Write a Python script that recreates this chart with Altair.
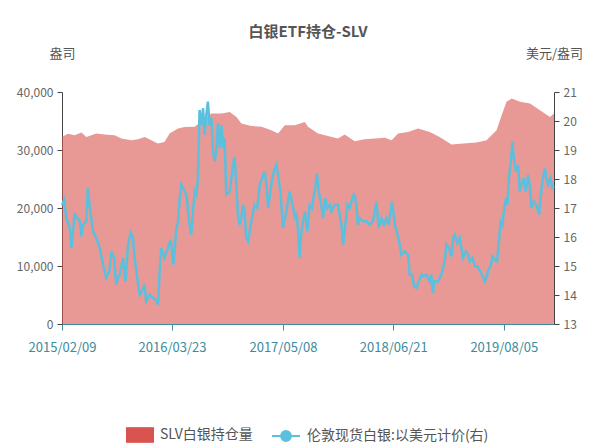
import altair as alt
import pandas as pd

FONT = "Noto Sans CJK SC"
HOLD_NAME = "SLV白银持仓量"
PRICE_NAME = "伦敦现货白银:以美元计价(右)"
TITLE = "白银ETF持仓-SLV"

# ---- SLV holdings (left axis) ----
hold_dates = [
    "2015-02-09", "2015-03-03", "2015-03-28", "2015-04-22", "2015-05-10", "2015-05-29",
    "2015-06-16", "2015-07-17", "2015-08-23", "2015-09-17", "2015-10-24", "2015-11-18",
    "2015-12-13", "2016-01-06", "2016-01-30", "2016-02-24", "2016-03-14", "2016-04-14",
    "2016-05-09", "2016-06-15", "2016-07-22", "2016-08-16", "2016-09-22", "2016-10-23",
    "2016-11-17", "2016-12-05", "2017-01-11", "2017-02-18", "2017-03-26", "2017-04-20",
    "2017-05-15", "2017-06-21", "2017-07-28", "2017-08-09", "2017-09-15", "2017-10-22",
    "2017-11-28", "2017-12-23", "2018-01-29", "2018-03-07", "2018-04-14", "2018-05-21",
    "2018-06-15", "2018-07-09", "2018-08-15", "2018-09-21", "2018-11-03", "2018-12-10",
    "2019-01-23", "2019-03-07", "2019-04-26", "2019-06-02", "2019-07-09", "2019-07-28",
    "2019-08-15", "2019-09-03", "2019-10-04", "2019-11-10", "2019-12-17", "2020-01-23",
    "2020-02-07",
]
hold_values = [
    32260, 32800, 32550, 33000, 32260, 32550,
    32850, 32670, 32550, 31990, 31700, 31870,
    32260, 31700, 31130, 31400, 32850, 33700,
    33980, 34000, 35400, 36300, 36300, 36560,
    35700, 34560, 34150, 34000, 33400, 32850,
    34270, 34270, 34840, 34000, 32850, 32430,
    31990, 32670, 31520, 31870, 31990, 32100,
    31700, 32850, 33120, 33700, 33120, 32260,
    30950, 31130, 31300, 31700, 33410, 36000,
    38300, 38870, 38300, 38000, 36850, 35700,
    36300,
]

# ---- London spot silver, USD (right axis) ----
price_dates = [
    "2015-02-09", "2015-02-17", "2015-02-25", "2015-03-10", "2015-03-16", "2015-03-22",
    "2015-03-28", "2015-04-04", "2015-04-16", "2015-04-22", "2015-04-28", "2015-05-10",
    "2015-05-16", "2015-05-22", "2015-06-04", "2015-06-16", "2015-06-29", "2015-07-11",
    "2015-07-23", "2015-08-04", "2015-08-11", "2015-08-21", "2015-08-29", "2015-09-04",
    "2015-09-11", "2015-09-23", "2015-10-02", "2015-10-12", "2015-10-22", "2015-10-30",
    "2015-11-05", "2015-11-15", "2015-11-24", "2015-12-02", "2015-12-12", "2015-12-18",
    "2015-12-31", "2016-01-12", "2016-01-24", "2016-01-31", "2016-02-06", "2016-02-12",
    "2016-02-24", "2016-03-08", "2016-03-18", "2016-03-28", "2016-04-08", "2016-04-14",
    "2016-04-20", "2016-04-26", "2016-05-02", "2016-05-15", "2016-05-27", "2016-06-02",
    "2016-06-09", "2016-06-15", "2016-06-21", "2016-06-27", "2016-07-03", "2016-07-10",
    "2016-07-16", "2016-07-22", "2016-07-28", "2016-08-03", "2016-08-09", "2016-08-16",
    "2016-08-22", "2016-08-28", "2016-09-03", "2016-09-09", "2016-09-16", "2016-09-22",
    "2016-09-28", "2016-10-04", "2016-10-10", "2016-10-23", "2016-11-04", "2016-11-10",
    "2016-11-16", "2016-11-22", "2016-11-28", "2016-12-05", "2016-12-11", "2016-12-17",
    "2016-12-23", "2016-12-30", "2017-01-05", "2017-01-13", "2017-01-23", "2017-02-02",
    "2017-02-11", "2017-02-20", "2017-03-01", "2017-03-08", "2017-03-14", "2017-03-26",
    "2017-04-04", "2017-04-14", "2017-04-20", "2017-04-30", "2017-05-08", "2017-05-21",
    "2017-06-02", "2017-06-08", "2017-06-21", "2017-06-27", "2017-07-03", "2017-07-09",
    "2017-07-15", "2017-07-28", "2017-08-07", "2017-08-15", "2017-08-24", "2017-08-31",
    "2017-09-05", "2017-09-11", "2017-09-18", "2017-09-25", "2017-10-04", "2017-10-12",
    "2017-10-19", "2017-10-29", "2017-11-04", "2017-11-16", "2017-11-28", "2017-12-11",
    "2017-12-17", "2017-12-23", "2018-01-02", "2018-01-11", "2018-01-17", "2018-01-27",
    "2018-02-04", "2018-02-10", "2018-02-17", "2018-03-01", "2018-03-14", "2018-03-26",
    "2018-04-07", "2018-04-20", "2018-04-28", "2018-05-08", "2018-05-18", "2018-05-27",
    "2018-06-04", "2018-06-17", "2018-06-27", "2018-07-07", "2018-07-15", "2018-07-21",
    "2018-08-03", "2018-08-15", "2018-08-21", "2018-08-30", "2018-09-06", "2018-09-15",
    "2018-09-24", "2018-10-04", "2018-10-10", "2018-10-22", "2018-11-03", "2018-11-09",
    "2018-11-15", "2018-11-21", "2018-12-04", "2018-12-16", "2018-12-29", "2019-01-04",
    "2019-01-14", "2019-01-23", "2019-01-29", "2019-02-04", "2019-02-13", "2019-02-23",
    "2019-03-01", "2019-03-07", "2019-03-17", "2019-03-26", "2019-04-01", "2019-04-11",
    "2019-04-20", "2019-04-29", "2019-05-09", "2019-05-19", "2019-05-27", "2019-06-02",
    "2019-06-08", "2019-06-17", "2019-06-24", "2019-07-03", "2019-07-11", "2019-07-19",
    "2019-07-24", "2019-07-31", "2019-08-05", "2019-08-13", "2019-08-18", "2019-08-24",
    "2019-08-30", "2019-09-06", "2019-09-11", "2019-09-19", "2019-09-27", "2019-10-03",
    "2019-10-09", "2019-10-18", "2019-10-25", "2019-11-03", "2019-11-09", "2019-11-15",
    "2019-11-24", "2019-12-04", "2019-12-14", "2019-12-19", "2019-12-26", "2020-01-04",
    "2020-01-10", "2020-01-16", "2020-01-25", "2020-02-01", "2020-02-07",
]
price_values = [
    17.10, 17.28, 16.65, 16.30, 15.62, 16.20,
    16.83, 16.65, 16.55, 16.02, 16.42, 16.55,
    17.69, 17.11, 16.20, 15.97, 15.62, 15.05,
    14.59, 14.82, 15.50, 15.28, 14.36, 14.59,
    14.70, 15.28, 14.47, 15.74, 16.14, 15.97,
    15.28, 14.59, 14.01, 14.13, 14.36, 13.78,
    14.01, 13.90, 13.84, 13.67, 14.82, 15.62,
    15.28, 15.62, 15.90, 15.05, 16.30, 16.50,
    17.30, 17.80, 17.70, 17.46, 16.42, 16.08,
    16.88, 17.57, 17.46, 18.03, 20.38, 19.86,
    20.44, 19.52, 20.21, 20.67, 19.86, 20.10,
    18.95, 18.60, 18.95, 19.92, 19.06, 19.86,
    19.06, 19.41, 17.46, 17.57, 18.49, 18.77,
    17.80, 16.77, 16.42, 16.65, 17.11, 16.88,
    15.97, 15.85, 16.20, 16.65, 17.11, 17.00,
    17.80, 18.03, 18.26, 17.80, 17.00, 17.80,
    18.26, 18.49, 18.14, 17.46, 16.31, 16.88,
    17.57, 17.34, 16.70, 16.83, 16.25, 15.28,
    16.15, 16.88, 16.20, 17.11, 17.00, 17.46,
    17.69, 18.20, 17.57, 17.23, 16.65, 17.34,
    17.00, 17.11, 16.88, 17.11, 17.11, 16.42,
    15.74, 16.20, 17.11, 17.00, 17.23, 17.51,
    17.11, 16.42, 16.65, 16.54, 16.54, 16.42,
    16.54, 17.23, 16.31, 16.65, 16.42, 16.65,
    16.42, 17.23, 16.42, 16.08, 15.74, 15.39,
    15.50, 15.39, 14.70, 14.70, 14.30, 14.24,
    14.47, 14.70, 14.64, 14.70, 14.47, 14.70,
    14.07, 14.47, 14.47, 14.70, 15.16, 15.74,
    15.62, 15.33, 15.97, 16.08, 15.79, 15.97,
    15.62, 15.28, 15.50, 15.39, 15.16, 15.28,
    14.99, 14.99, 14.82, 14.64, 14.47, 14.59,
    14.87, 14.99, 15.33, 15.22, 15.16, 15.97,
    16.54, 16.42, 16.88, 17.34, 17.11, 18.03,
    18.49, 19.29, 18.72, 18.26, 18.49, 17.57,
    17.80, 18.03, 17.57, 18.14, 17.80, 17.00,
    17.23, 17.11, 16.77, 17.34, 17.92, 18.37,
    18.03, 17.80, 18.03, 17.69, 17.75,
]

# ---- axis ticks ----
x_tick_dates = ["2015-02-09", "2016-03-23", "2017-05-08", "2018-06-21", "2019-08-05"]
x_domain = ["2015-02-09", "2020-02-07"]
left_ticks = [0, 10000, 20000, 30000, 40000]
right_ticks = [13, 14, 15, 16, 17, 18, 19, 20, 21]


def dt(s):
    y, m, d = (int(v) for v in s.split("-"))
    return alt.DateTime(year=y, month=m, date=d)


df_h = pd.DataFrame({"date": pd.to_datetime(hold_dates), "holding": hold_values, "s1": HOLD_NAME})
df_p = pd.DataFrame({"date": pd.to_datetime(price_dates), "price": price_values, "s2": PRICE_NAME})

TEAL = "#3C8C9C"
x_enc = alt.X(
    "date:T",
    scale=alt.Scale(domain=[dt(x_domain[0]), dt(x_domain[1])]),
    axis=alt.Axis(
        values=[dt(s) for s in x_tick_dates], format="%Y/%m/%d", title=None,
        labelColor=TEAL, labelFont=FONT, labelFontSize=13, labelPadding=11,
        labelFlush=False, labelOverlap=False,
        domainColor=TEAL, tickColor=TEAL, tickSize=6, grid=False,
    ),
)

area = alt.Chart(df_h).mark_area(opacity=0.6, interpolate="linear").encode(
    x=x_enc,
    y=alt.Y(
        "holding:Q",
        scale=alt.Scale(domain=[0, 40000], nice=False),
        axis=alt.Axis(
            orient="left", values=left_ticks, format=",.0f", grid=False,
            title="盎司", titleAngle=0, titleX=0, titleY=-39, titleAlign="center",
            titleBaseline="middle", titleFont=FONT, titleFontSize=13,
            titleFontWeight="normal", titleColor="#555555",
            labelFont=FONT, labelFontSize=12, labelColor="#666666", labelPadding=4,
            domainColor="#444444", tickColor="#444444", tickSize=5,
        ),
    ),
    color=alt.Color(
        "s1:N",
        scale=alt.Scale(domain=[HOLD_NAME], range=["#D9534F"]),
        legend=alt.Legend(
            title=None, orient="none", legendX=64, legendY=329,
            symbolType="M-1,-0.56H1V0.56H-1Z", symbolSize=784, symbolOpacity=1,
            symbolStrokeWidth=0, labelLimit=300,
            labelFont=FONT, labelFontSize=14, labelColor="#555555", labelOffset=6,
        ),
    ),
)

line = alt.Chart(df_p).mark_line(strokeWidth=2.5).encode(
    x=x_enc,
    y=alt.Y(
        "price:Q",
        scale=alt.Scale(domain=[13, 21], nice=False),
        axis=alt.Axis(
            orient="right", values=right_ticks, format="d", grid=False,
            title="美元/盎司", titleAngle=0, titleX=0, titleY=-39, titleAlign="center",
            titleBaseline="middle", titleFont=FONT, titleFontSize=13,
            titleFontWeight="normal", titleColor="#555555",
            labelFont=FONT, labelFontSize=12, labelColor="#666666", labelPadding=4,
            domainColor="#444444", tickColor="#444444", tickSize=5,
        ),
    ),
    stroke=alt.Stroke(
        "s2:N",
        scale=alt.Scale(domain=[PRICE_NAME], range=["#5BC0DE"]),
        legend=alt.Legend(
            title=None, orient="none", legendX=209, legendY=329,
            symbolType="M-1,0H-0.35M0.35,0H1M0.35,0A0.35,0.35 0 1,1 -0.35,0A0.35,0.35 0 1,1 0.35,0Z",
            symbolSize=784, symbolStrokeWidth=2, symbolFillColor="#5BC0DE",
            symbolStrokeColor="#5BC0DE", symbolOpacity=1, labelLimit=400,
            labelFont=FONT, labelFontSize=14, labelColor="#555555", labelOffset=6,
        ),
    ),
)

chart = (
    alt.layer(area, line)
    .resolve_scale(y="independent", color="independent", stroke="independent")
    .properties(
        width=492,
        height=232,
        autosize=alt.AutoSizeParams(type="none"),
        padding={"left": 54, "top": 84, "right": 34, "bottom": 121},
        title=alt.TitleParams(
            text=TITLE, font=FONT, fontSize=15, fontWeight="bold", color="#555555",
            anchor="middle", offset=7,
        ),
    )
    .configure_view(stroke=None)
)

chart.save("out.html", embed_options={"renderer": "svg", "actions": False})
